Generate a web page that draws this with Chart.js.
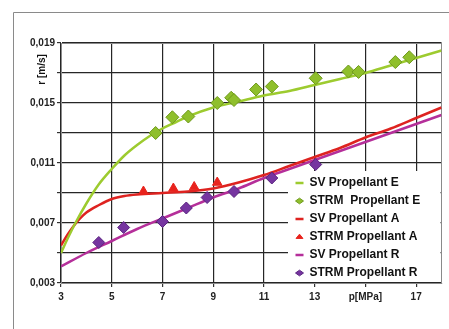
<!DOCTYPE html>
<html>
<head>
<meta charset="utf-8">
<script src="https://cdn.jsdelivr.net/npm/chart.js@4/dist/chart.umd.min.js"></script>
<style>
  html, body { margin: 0; padding: 0; background: #ffffff; }
  #wrap { position: relative; width: 449px; height: 329px; }
</style>
</head>
<body>
<div id="wrap"><canvas id="c" width="449" height="329"></canvas></div>
<script>
// ---------- data ----------
const xTickValues = [3, 5, 7, 9, 11, 13, 15, 17];
const xTickLabels = ['3', '5', '7', '9', '11', '13', 'p[MPa]', '17'];
const yTickValues = [0.003, 0.005, 0.007, 0.009, 0.011, 0.013, 0.015, 0.017, 0.019];
const yTickLabels = ['0,003', '', '0,007', '', '0,011', '', '0,015', '', '0,019'];

const seriesNames = ['SV Propellant E', 'STRM  Propellant E', 'SV Propellant A',
                     'STRM Propellant A', 'SV Propellant R', 'STRM Propellant R'];

// SV Propellant E (model curve)
const svE_p = [3, 3.3, 3.6, 4, 4.5, 5, 5.5, 6, 6.5, 7, 7.5, 8, 9, 10, 11, 12, 13, 14, 15, 16, 17, 18];
const svE_r = [0.0050, 0.0061, 0.0071, 0.0083, 0.0096, 0.0106, 0.0115, 0.0122, 0.0128, 0.0133, 0.0137,
               0.0141, 0.0147, 0.0151, 0.0155, 0.0158, 0.0162, 0.0166, 0.0170, 0.0175, 0.0180, 0.0185];
// STRM Propellant E (measurements)
const strmE_p = [6.73, 7.39, 8.02, 9.16, 9.71, 9.82, 10.69, 11.31, 13.04, 14.33, 14.73, 16.18, 16.73];
const strmE_r = [0.0130, 0.01405, 0.0141, 0.0150, 0.01535, 0.0152, 0.0159, 0.0161, 0.01665, 0.0171,
                 0.01707, 0.01773, 0.01805];
// SV Propellant A (model curve)
const svA_p = [3, 3.25, 3.5, 3.75, 4, 4.5, 5, 5.5, 6, 7, 8, 9, 10, 11, 12, 13, 14, 15, 16, 17, 18];
const svA_r = [0.0055, 0.0062, 0.0068, 0.0073, 0.0077, 0.0082, 0.0086, 0.0088, 0.0089, 0.0090, 0.0091,
               0.0093, 0.0097, 0.0102, 0.0108, 0.0114, 0.0120, 0.0127, 0.0133, 0.0140, 0.0147];
// STRM Propellant A (measurements)
const strmA_p = [6.25, 7.43, 8.25, 9.16];
const strmA_r = [0.0091, 0.0093, 0.0094, 0.0097];
// SV Propellant R (model curve)
const svR_p = [3, 4, 5, 6, 7, 8, 9, 10, 11, 12, 13, 14, 15, 16, 17, 18];
const svR_r = [0.0041, 0.0050, 0.0058, 0.0066, 0.0073, 0.0080, 0.0087, 0.0093, 0.0100, 0.0106,
               0.0112, 0.0118, 0.0124, 0.0130, 0.0136, 0.0142];
// STRM Propellant R (measurements)
const strmR_p = [4.49, 5.47, 7.0, 7.94, 8.76, 9.82, 11.31, 13.04];
const strmR_r = [0.0057, 0.0067, 0.0071, 0.0080, 0.0087, 0.0091, 0.0100, 0.0109];

const toXY = (xs, ys) => xs.map((x, i) => ({ x: x, y: ys[i] }));

// ---------- styling ----------
const GREEN = '#9dcb2f', GREEN_PT = '#8fbf2c', GREEN_EDGE = '#6f9a1c';
const RED = '#de2320', RED_PT = '#e8231d';
const MAGENTA = '#b52f9a', PURPLE = '#7635a0', PURPLE_EDGE = '#5a2380';

function lineDs(label, xs, ys, color) {
  return {
    type: 'line', label, data: toXY(xs, ys), borderColor: color, backgroundColor: color,
    borderWidth: 2.5, pointRadius: 0, pointHoverRadius: 0, pointStyle: 'line',
    cubicInterpolationMode: 'monotone', fill: false, order: 2
  };
}
function ptDs(label, xs, ys, fill, edge, style, r) {
  return {
    type: 'scatter', label, data: toXY(xs, ys), backgroundColor: fill, borderColor: edge,
    borderWidth: 1, pointStyle: style, pointRadius: r, pointHoverRadius: r, showLine: false, order: 1
  };
}

const datasets = [
  lineDs(seriesNames[0], svE_p, svE_r, GREEN),
  ptDs(seriesNames[1], strmE_p, strmE_r, GREEN_PT, GREEN_EDGE, 'rectRot', 6.5),
  lineDs(seriesNames[2], svA_p, svA_r, RED),
  ptDs(seriesNames[3], strmA_p, strmA_r, RED_PT, RED_PT, 'triangle', 5.5),
  lineDs(seriesNames[4], svR_p, svR_r, MAGENTA),
  ptDs(seriesNames[5], strmR_p, strmR_r, PURPLE, PURPLE_EDGE, 'rectRot', 6)
];

const decor = {
  id: 'decor',
  beforeDraw(chart) {
    const ctx = chart.ctx;
    ctx.save();
    ctx.fillStyle = '#ffffff';
    ctx.fillRect(0, 0, chart.width, chart.height);
    ctx.strokeStyle = '#8a8a8a';
    ctx.lineWidth = 1;
    ctx.beginPath();
    ctx.moveTo(13.5, chart.height);
    ctx.lineTo(13.5, 12.5);
    ctx.lineTo(chart.width, 12.5);
    ctx.stroke();
    ctx.restore();
  },
  afterLayout(chart) {
    const lg = chart.legend, ca = chart.chartArea;
    if (!lg) return;
    lg.left = ca.right - 152;
    lg.right = ca.right;
    lg.top = ca.top;
    lg.bottom = ca.bottom + 2;
  },
  beforeDatasetsDraw(chart) {
    const ctx = chart.ctx, ca = chart.chartArea;
    ctx.save();
    ctx.fillStyle = '#ffffff';
    ctx.fillRect(288, 171, ca.right - 288 - 1, ca.bottom - 171 - 1);
    ctx.strokeStyle = '#8a8a8a';
    ctx.lineWidth = 1;
    ctx.strokeRect(Math.round(ca.left) + 0.5, Math.round(ca.top) + 0.5,
                   Math.round(ca.right - ca.left) - 1, Math.round(ca.bottom - ca.top));
    ctx.restore();
    if (chart.legend) chart.legend.draw();
  }
};

const tickFont = { family: 'Liberation Sans', size: 10, weight: 'bold' };

new Chart(document.getElementById('c'), {
  data: { datasets },
  options: {
    responsive: false,
    animation: false,
    events: [],
    layout: { padding: { left: 0, top: 43, right: 6, bottom: 0 } },
    plugins: {
      tooltip: { enabled: false },
      legend: {
        display: true,
        position: 'chartArea',
        align: 'end',
        labels: {
          usePointStyle: true,
          pointStyleWidth: 8,
          boxHeight: 4,
          padding: 6,
          color: '#111111',
          font: { family: 'Liberation Sans', size: 12, weight: 'bold' },
          sort: (a, b) => a.datasetIndex - b.datasetIndex
        }
      }
    },
    scales: {
      x: {
        type: 'linear', position: 'bottom', min: 3, max: 18,
        afterBuildTicks: (s) => { s.ticks = xTickValues.map(v => ({ value: v })); },
        afterFit: (s) => { s.height = 46; },
        ticks: {
          autoSkip: false, maxRotation: 0, padding: 4, color: '#222222', font: tickFont,
          callback: (v, i) => xTickLabels[i]
        },
        grid: { color: '#262626', lineWidth: 1.2, tickLength: 4, tickColor: '#333333' },
        border: { color: '#777777', width: 1 }
      },
      y: {
        type: 'linear', position: 'left', min: 0.003, max: 0.019,
        afterBuildTicks: (s) => { s.ticks = yTickValues.map(v => ({ value: v })); },
        afterFit: (s) => { s.width = 61; },
        ticks: {
          autoSkip: false, padding: 2, color: '#222222', font: tickFont,
          callback: (v, i) => yTickLabels[i]
        },
        grid: { color: '#262626', lineWidth: 1.2, tickLength: 4, tickColor: '#333333' },
        border: { color: '#777777', width: 1 },
        title: {
          display: true, text: 'r [m/s]    ', align: 'end', color: '#111111',
          font: { family: 'Liberation Sans', size: 10, weight: 'bold' },
          padding: { top: 36, bottom: 0 }
        }
      }
    }
  },
  plugins: [decor]
});
</script>
</body>
</html>
